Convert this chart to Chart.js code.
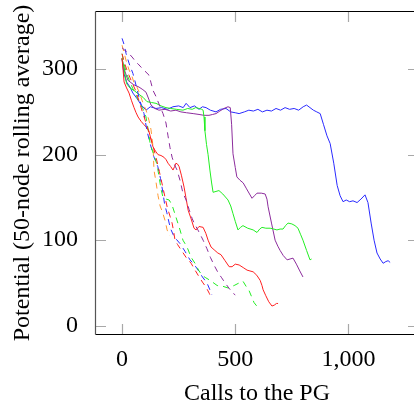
<!DOCTYPE html>
<html>
<head>
<meta charset="utf-8">
<script src="https://cdn.jsdelivr.net/npm/chart.js@4.4.1/dist/chart.umd.min.js"></script>
<style>
html,body{margin:0;padding:0;background:#fff;overflow:hidden;}
#wrap{width:414px;height:405px;overflow:hidden;position:relative;}
canvas{display:block;}
</style>
</head>
<body>
<div id="wrap"><canvas id="c" width="430" height="405"></canvas></div>
<script>
// ---- tick values / labels ----
const xTickValues = [0, 500, 1000];
const xTickLabels = ['0', '500', '1,000'];
const yTickValues = [0, 100, 200, 300];
const yTickLabels = ['0', '100', '200', '300'];
const xTitle = 'Calls to the PG';
const yTitle = 'Potential (50-node rolling average)';

// ---- series: [calls, potential] ----
const blueSolid = [[0,312],[8,295],[20,285],[35,279],[48,272],[65,266],[85,258],[106,252],[125,256],[150,254],[175,255],[200,253],[225,256],[250,257],[270,255],[283,260],[300,255],[320,257],[340,253],[355,256],[371,255],[390,252],[415,250],[435,253],[459,254],[480,250],[500,249],[517,248],[540,250],[560,252],[580,251],[600,253],[620,250],[640,252],[660,251],[680,254],[700,252],[720,255],[740,253],[760,254],[780,252],[800,256],[815,258],[830,255],[845,252],[860,250],[875,248],[890,235],[905,222],[919,213],[935,190],[950,164],[963,152],[976,145],[990,147],[1005,145],[1020,146],[1038,144],[1055,148],[1073,153],[1086,144],[1100,120],[1113,100],[1126,85],[1140,78],[1153,73],[1165,75],[1175,76],[1184,74]];
const purpleSolid = [[0,312],[12,298],[26,287],[50,282],[75,279],[92,276],[106,273],[118,265],[128,258],[145,254],[163,252],[190,253],[215,251],[238,252],[260,250],[285,249],[314,248],[340,247],[362,246],[384,246],[400,247],[415,248],[432,251],[450,254],[468,256],[478,255],[484,235],[490,201],[500,185],[507,174],[521,170],[535,167],[550,160],[563,154],[574,149],[585,152],[596,155],[615,155],[632,154],[640,148],[645,139],[660,120],[676,100],[688,93],[698,88],[712,82],[729,77],[742,78],[755,79],[770,72],[785,64],[799,57]];
const greenSolid = [[0,313],[9,300],[20,283],[35,278],[53,275],[72,271],[93,267],[110,262],[130,261],[150,260],[172,257],[194,255],[215,254],[240,253],[269,252],[290,254],[310,253],[325,255],[340,254],[352,253],[358,252],[362,244],[366,228],[373,212],[380,200],[388,182],[395,168],[402,156],[415,157],[428,158],[445,154],[468,147],[480,140],[490,131],[500,122],[512,112],[523,115],[534,117],[555,114],[579,112],[596,109],[608,113],[618,115],[635,114],[654,114],[670,113],[684,112],[698,113],[711,113],[722,117],[733,120],[750,119],[764,117],[777,114],[788,107],[799,100],[815,88],[830,77],[837,78]];
const redSolid = [[0,313],[5,298],[9,285],[20,278],[31,272],[42,263],[53,255],[62,249],[71,244],[84,239],[97,235],[108,232],[118,228],[128,218],[137,209],[148,204],[159,200],[172,199],[185,197],[195,194],[203,190],[215,186],[225,182],[232,186],[238,190],[245,189],[252,186],[262,176],[274,162],[282,150],[292,135],[305,125],[318,114],[327,112],[340,116],[358,115],[370,108],[380,100],[393,92],[410,88],[423,85],[437,83],[455,76],[473,69],[486,69],[500,72],[517,71],[535,68],[552,65],[565,64],[579,63],[595,59],[610,53],[618,47],[623,42],[635,35],[648,28],[662,23],[672,24],[682,26],[689,26]];
const blueDashed = [[0,336],[10,328],[18,318],[32,306],[48,295],[62,281],[75,267],[86,257],[97,248],[110,228],[124,213],[140,198],[158,186],[170,172],[181,155],[188,142],[198,132],[208,120],[215,113],[230,104],[256,96],[278,87],[300,77],[320,71],[336,65],[355,57],[375,50],[388,42],[397,36]];
const orangeDashed = [[0,328],[10,318],[20,308],[31,299],[42,293],[53,284],[66,279],[80,270],[93,260],[106,252],[119,240],[128,229],[137,209],[141,182],[150,168],[159,152],[168,140],[177,134],[190,123],[199,112],[210,105]];
const greenDashed = [[0,318],[10,305],[20,295],[35,285],[48,277],[62,270],[75,262],[90,255],[105,245],[115,230],[124,213],[140,200],[155,188],[172,160],[181,150],[195,148],[208,147],[221,141],[238,127],[256,112],[269,100],[287,92],[305,80],[322,73],[338,65],[353,59],[370,56],[389,53],[420,47],[446,46],[470,44],[495,47],[517,50],[534,52],[548,46],[561,41],[572,34],[583,27],[595,23]];
const purpleDashed = [[0,325],[12,322],[25,320],[48,313],[62,308],[71,306],[85,302],[100,298],[119,293],[128,284],[137,275],[150,268],[165,258],[181,248],[194,237],[203,222],[212,208],[221,197],[232,188],[243,182],[256,170],[269,155],[283,147],[296,136],[310,125],[322,118],[335,112],[358,100],[375,90],[390,80],[408,70],[424,62],[440,56],[455,50],[472,44],[490,38],[500,36]];
const redDashed = [[0,318],[10,308],[20,300],[35,290],[48,282],[60,275],[75,263],[90,250],[105,238],[120,225],[135,212],[150,197],[165,180],[180,162],[190,150],[200,138],[212,128],[221,120],[228,110],[234,100],[245,95],[265,87],[285,79],[305,73],[320,66],[336,59],[355,51],[371,45],[385,38],[393,33]];

const BLUE = '#2a2aff', PURPLE = '#8c2c9c', GREEN = '#22ee22', RED = '#ff2020', ORANGE = '#ff9933';
const DASH = [6, 5];

function ds(points, color, dashed) {
  return {
    data: points.map(p => ({x: p[0], y: p[1]})),
    borderColor: color,
    backgroundColor: color,
    borderWidth: 1,
    borderDash: dashed ? DASH : [],
    pointRadius: 0,
    tension: 0,
    fill: false
  };
}

const datasets = [
  ds(redDashed, RED, true),
  ds(purpleDashed, PURPLE, true),
  ds(greenDashed, GREEN, true),
  ds(orangeDashed, ORANGE, true),
  ds(blueDashed, BLUE, true),
  ds(redSolid, RED, false),
  ds(greenSolid, GREEN, false),
  ds(purpleSolid, PURPLE, false),
  ds(blueSolid, BLUE, false)
];

const FONT = 'Liberation Serif, Times New Roman, serif';

const boxPlugin = {
  id: 'box',
  beforeDatasetsDraw(chart) {
    const {ctx, chartArea: a, scales: {x, y}} = chart;
    ctx.save();
    ctx.strokeStyle = '#a8a8a8';
    ctx.lineWidth = 1.2;
    const L = 10;
    xTickValues.forEach(v => {
      const px = Math.round(x.getPixelForValue(v)) + 0.5;
      ctx.beginPath();
      ctx.moveTo(px, a.bottom); ctx.lineTo(px, a.bottom - L);
      ctx.moveTo(px, a.top); ctx.lineTo(px, a.top + L);
      ctx.stroke();
    });
    yTickValues.forEach(v => {
      const py = Math.round(y.getPixelForValue(v)) + 0.5;
      ctx.beginPath();
      ctx.moveTo(a.left, py); ctx.lineTo(a.left + L, py);
      ctx.moveTo(a.right, py); ctx.lineTo(a.right - L, py);
      ctx.stroke();
    });
    ctx.restore();
  },
  afterDatasetsDraw(chart) {
    const {ctx, chartArea: a} = chart;
    ctx.save();
    ctx.strokeStyle = '#000';
    ctx.lineWidth = 1.2;
    ctx.beginPath();
    ctx.moveTo(a.left - 0.5, a.top - 0.5); ctx.lineTo(a.right + 0.5, a.top - 0.5);
    ctx.moveTo(a.left - 0.5, a.bottom + 0.5); ctx.lineTo(a.right + 0.5, a.bottom + 0.5);
    ctx.stroke();
    ctx.strokeStyle = '#555';
    ctx.beginPath();
    ctx.moveTo(a.left - 0.5, a.top - 0.5); ctx.lineTo(a.left - 0.5, a.bottom + 0.5);
    ctx.stroke();
    ctx.restore();
  }
};

function zeroPad(s) { s.paddingTop = 0; s.paddingBottom = 0; s.paddingLeft = 0; s.paddingRight = 0; }

new Chart(document.getElementById('c'), {
  type: 'line',
  data: {datasets},
  plugins: [boxPlugin],
  options: {
    responsive: false,
    animation: false,
    events: [],
    layout: {padding: {top: 12, right: 12, left: 0, bottom: 0}},
    plugins: {legend: {display: false}, tooltip: {enabled: false}},
    scales: {
      x: {
        type: 'linear',
        min: -115,
        max: 1307,
        grid: {display: false},
        border: {display: false},
        afterBuildTicks: s => { s.ticks = xTickValues.map(v => ({value: v})); },
        afterFit: s => { s.height = 71; zeroPad(s); },
        ticks: {
          color: '#000',
          font: {family: FONT, size: 24},
          padding: 3,
          maxRotation: 0,
          autoSkip: false,
          callback: (v) => xTickLabels[xTickValues.indexOf(v)]
        },
        title: {display: true, text: xTitle, color: '#000', font: {family: FONT, size: 24}, padding: {top: 0, bottom: -3}}
      },
      y: {
        type: 'linear',
        min: -9.7,
        max: 366.8,
        grid: {display: false},
        border: {display: false},
        afterBuildTicks: s => { s.ticks = yTickValues.map(v => ({value: v})); },
        afterFit: s => { s.width = 96; zeroPad(s); },
        ticks: {
          color: '#000',
          font: {family: FONT, size: 24},
          padding: 10,
          autoSkip: false,
          callback: (v) => yTickLabels[yTickValues.indexOf(v)]
        },
        title: {display: true, text: yTitle, color: '#000', font: {family: FONT, size: 24}, padding: {top: 8, bottom: 0}}
      }
    }
  }
});
</script>
</body>
</html>
